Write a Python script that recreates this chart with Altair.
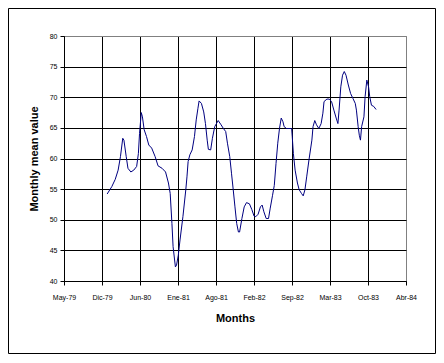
import json
import altair as alt
import pandas as pd

# x-axis tick labels (Excel date axis: start 25-May-1979, major unit 200 days)
x_labels = ["May-79", "Dic-79", "Jun-80", "Ene-81", "Ago-81",
            "Feb-82", "Sep-82", "Mar-83", "Oct-83", "Abr-84"]
y_ticks = [40, 45, 50, 55, 60, 65, 70, 75, 80]

# months elapsed since 1 Jan 1980 (fractional)
months = [0.2, 1.0, 1.6, 2.1, 2.5, 2.9, 3.1, 3.5, 3.8, 4.3, 4.8, 5.3, 5.6, 5.8,
          6.1, 6.3, 6.6, 7.0, 7.4, 7.9, 8.5, 9.0, 9.7, 10.3, 10.8, 11.1, 11.4,
          11.6, 12.0, 12.2, 12.5, 12.8, 13.3, 13.8, 14.0, 14.2, 14.5, 14.9,
          15.3, 15.6, 15.9, 16.1, 16.5, 16.9, 17.2, 17.5, 17.7, 18.1, 18.4,
          18.8, 19.4, 19.9, 20.3, 20.7, 21.0, 21.4, 21.7, 22.0, 22.3, 22.6,
          22.9, 23.1, 23.5, 23.9, 24.3, 24.8, 25.2, 25.6, 25.9, 26.3, 26.7,
          27.0, 27.3, 27.7, 28.1, 28.4, 28.8, 29.1, 29.4, 29.7, 30.0, 30.3,
          30.6, 30.8, 31.2, 31.8, 32.1, 32.2, 32.4, 32.7, 33.1, 33.4, 33.8,
          34.1, 34.4, 34.7, 35.1, 35.6, 35.8, 36.1, 36.4, 36.8, 37.2, 37.5,
          37.7, 38.2, 38.6, 39.0, 39.4, 39.8, 40.1, 40.3, 40.6, 40.9, 41.2,
          41.5, 41.9, 42.3, 42.7, 43.1, 43.3, 43.6, 43.8, 44.0, 44.2, 44.6,
          44.8, 45.1, 45.4, 45.6, 45.9, 46.3, 46.7]
values = [54.2, 55.4, 56.6, 58.1, 60.3, 63.3, 63.0, 60.3, 58.4, 57.8, 58.1, 58.7,
          60.8, 64.1, 67.5, 66.8, 64.7, 63.6, 62.2, 61.7, 60.3, 58.8, 58.4, 57.8,
          56.0, 54.3, 49.4, 45.6, 42.3, 42.6, 44.2, 46.7, 50.5, 54.9, 57.0, 59.5,
          60.6, 61.4, 63.6, 66.3, 68.2, 69.4, 69.0, 67.6, 65.7, 63.0, 61.5, 61.4,
          63.3, 65.2, 66.2, 65.5, 64.9, 64.4, 62.5, 60.3, 57.6, 54.9, 52.1, 49.4,
          48.0, 48.0, 50.2, 52.1, 52.8, 52.6, 51.7, 50.6, 50.5, 50.9, 52.1, 52.4,
          51.3, 50.2, 50.2, 51.9, 54.0, 55.6, 59.2, 62.5, 64.9, 66.6, 66.0, 65.2,
          64.9, 64.9, 64.9, 63.6, 60.8, 58.1, 56.0, 54.9, 54.3, 53.9, 54.9, 57.0,
          59.8, 63.0, 65.2, 66.2, 65.5, 64.9, 65.7, 67.4, 69.3, 69.7, 69.7, 69.3,
          67.9, 66.6, 65.7, 67.9, 71.7, 73.6, 74.2, 73.6, 72.0, 70.6, 69.8, 69.0,
          67.9, 65.2, 63.8, 63.0, 65.2, 66.8, 70.1, 72.8, 71.7, 70.1, 68.7, 68.5,
          68.0]

# days after 25-May-1979 (1 Jan 1980 is day 221)
df = pd.DataFrame({"day": [221 + m * 30.44 for m in months], "value": values})

label_expr = json.dumps(x_labels) + "[round(datum.value / 200)]"
FONT = "Liberation Sans"

line = alt.Chart(df).mark_line(color="#000080", strokeWidth=1).encode(
    x=alt.X("day:Q",
            scale=alt.Scale(domain=[0, 1800], nice=False, zero=False),
            axis=alt.Axis(values=list(range(0, 1801, 200)), labelExpr=label_expr,
                          title="Months", grid=True,
                          gridColor={"condition": {"test": "datum.value == 1800", "value": "#808080"},
                                     "value": "black"},
                          tickSize=4, labelPadding=8, titlePadding=12,
                          labelFlush=False, labelOverlap=False)),
    y=alt.Y("value:Q",
            scale=alt.Scale(domain=[40, 80], nice=False, zero=False),
            axis=alt.Axis(values=y_ticks, title="Monthly mean value", grid=True,
                          gridColor={"condition": {"test": "datum.value == 80", "value": "#808080"},
                                     "value": "black"},
                          tickSize=4, labelPadding=3, titlePadding=10,
                          labelFlush=False, labelOverlap=False)),
)

frame = alt.Chart(pd.DataFrame({"a": [0]})).mark_rect(
    fillOpacity=0, stroke="black", strokeWidth=1
).encode(x=alt.value(-55.5), x2=alt.value(371.5), y=alt.value(-27.5), y2=alt.value(317.5))

chart = alt.layer(frame, line).properties(
    width=342, height=245,
    autosize=alt.AutoSizeParams(type="none"),
    padding={"left": 56, "top": 28, "right": 30, "bottom": 74},
    background="white",
).configure_view(
    stroke="#808080", strokeWidth=1
).configure_axis(
    domainColor="black", domainWidth=1, tickColor="black", tickWidth=1,
    gridWidth=1, labelFont=FONT, labelFontSize=7, labelColor="black",
    titleFont=FONT, titleFontSize=11, titleFontWeight="bold", titleColor="black",
)

chart.save("out.html", embed_options={"renderer": "svg", "actions": False})
